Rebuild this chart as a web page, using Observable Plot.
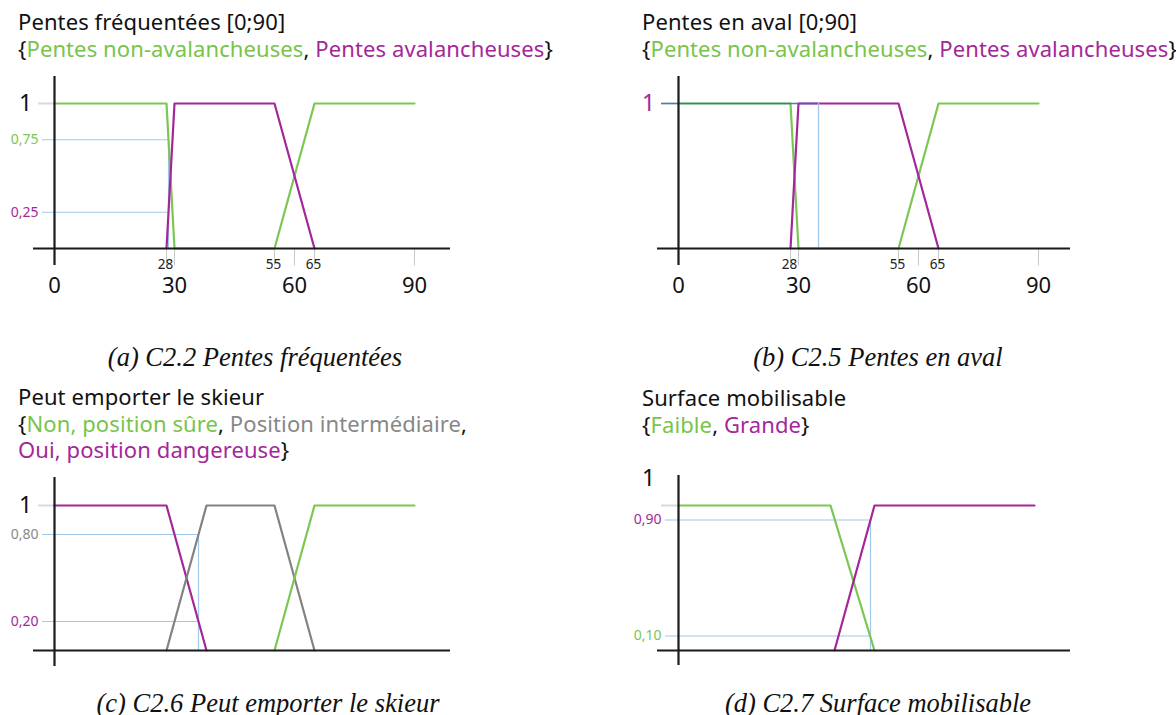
<!DOCTYPE html>
<html><head><meta charset="utf-8">
<script src="https://cdn.jsdelivr.net/npm/d3@7"></script>
<script src="https://cdn.jsdelivr.net/npm/@observablehq/plot@0.6"></script>
<style>
body{margin:0;background:#fff;}
#page{position:relative;width:1176px;height:715px;background:#fff;overflow:hidden;}
.title{position:absolute;font-family:"Noto Sans",sans-serif;font-size:22px;line-height:26.5px;color:#111;white-space:nowrap;letter-spacing:0.1px;}
.cap{position:absolute;font-family:"Liberation Serif",serif;font-style:italic;font-size:26.5px;line-height:28px;color:#111;text-align:center;width:580px;white-space:nowrap;}
.plot{position:absolute;}
.g{color:#78c44a}.m{color:#a4279a}.k{color:#878787}
</style></head>
<body><div id="page"></div>
<script>
// ---------- data ----------
const GREEN = "#7cc653", MAGENTA = "#a4279a", GREY = "#828282", GUIDE = "#9fc8ea", GUIDE_DARK = "#2f6db5";

const xMajorTicks = [0, 30, 60, 90];
const xMinorTicks = [28, 55, 65];
const xTickMarks = [28, 30, 55, 60, 65, 90];

// (a) C2.2 Pentes fréquentées
const aNonAvalX = [0, 28, 30, 55, 65, 90];
const aNonAvalY = [1, 1, 0, 0, 1, 1];
const aAvalX = [28, 30, 55, 65];
const aAvalY = [0, 1, 1, 0];
const aGuideX = 28.5;
const aGuideLevels = [0.75, 0.25];
const aGuideLabels = ["0,75", "0,25"];

// (b) C2.5 Pentes en aval
const bNonAvalX = [0, 28, 30, 55, 65, 90];
const bNonAvalY = [1, 1, 0, 0, 1, 1];
const bAvalX = [28, 30, 55, 65];
const bAvalY = [0, 1, 1, 0];
const bGuideX = 35;
const bGuideLevels = [1];

// (c) C2.6 Peut emporter le skieur
const cOuiX = [0, 28, 38];
const cOuiY = [1, 1, 0];
const cInterX = [28, 38, 55, 65];
const cInterY = [0, 1, 1, 0];
const cNonX = [55, 65, 90];
const cNonY = [0, 1, 1];
const cGuideX = 36;
const cGuideLevels = [0.8, 0.2];
const cGuideLabels = ["0,80", "0,20"];

// (d) C2.7 Surface mobilisable
const dFaibleX = [0, 38, 49];
const dFaibleY = [1, 1, 0];
const dGrandeX = [39, 49, 89];
const dGrandeY = [0, 1, 1];
const dGuideX = 48;
const dGuideLevels = [0.9, 0.1];
const dGuideLabels = ["0,90", "0,10"];

const toPts = (xs, ys) => xs.map((x, i) => ({x, y: ys[i]}));

// ---------- layout ----------
const page = document.getElementById("page");
function addHTML(cls, left, top, html, extra) {
  const d = document.createElement("div");
  d.className = cls; d.style.left = left + "px"; d.style.top = top + "px";
  if (extra) Object.assign(d.style, extra);
  d.innerHTML = html; page.appendChild(d); return d;
}

addHTML("title", 18, 8, 'Pentes fréquentées [0;90]<br>{<span class="g">Pentes non-avalancheuses</span>, <span class="m">Pentes avalancheuses</span>}');
addHTML("title", 642, 8, 'Pentes en aval [0;90]<br>{<span class="g">Pentes non-avalancheuses</span>, <span class="m">Pentes avalancheuses</span>}');
addHTML("title", 18, 383, 'Peut emporter le skieur<br>{<span class="g">Non, position sûre</span>, <span class="k">Position intermédiaire</span>,<br><span class="m">Oui, position dangereuse</span>}');
addHTML("title", 642, 384, 'Surface mobilisable<br>{<span class="g">Faible</span>, <span class="m">Grande</span>}');

addHTML("cap", -35, 343, "(a) C2.2 Pentes fréquentées");
addHTML("cap", 588, 343, "(b) C2.5 Pentes en aval");
addHTML("cap", -22, 689, "(c) C2.6 Peut emporter le skieur");
addHTML("cap", 588, 689, "(d) C2.7 Surface mobilisable");

function panel({left, top, width, x0, axisL, axisR, yTop, yBot, series, guides, yLabels, oneLabel, showX, extraMarks}) {
  const H = 240;
  const marks = [];
  // light tick at 1
  marks.push(Plot.ruleY([1], {x1: oneLabel.tick1, x2: 0, stroke: "#d9d9d9", strokeWidth: 2}));
  // guides
  for (const g of guides) {
    marks.push(Plot.ruleY(g.levels, {x1: g.x1, x2: g.x, stroke: g.color || GUIDE, strokeWidth: g.w || 1.2}));
    marks.push(Plot.ruleX([g.x], {y1: 0, y2: d3.max(g.levels), stroke: GUIDE, strokeWidth: 1.2}));
  }
  if (showX) marks.push(Plot.ruleX(xTickMarks, {y1: 0, y2: -0.12, stroke: "#c8c8c8", strokeWidth: 1}));
  for (const s of series) marks.push(Plot.line(s.pts, {x: "x", y: "y", stroke: s.color, strokeWidth: 2.2}));
  if (extraMarks) marks.push(...extraMarks);
  // axes
  marks.push(Plot.ruleY([0], {stroke: "#1a1a1a", strokeWidth: 2.2}));
  marks.push(Plot.ruleX([0], {stroke: "#1a1a1a", strokeWidth: 2.2}));
  // y labels
  marks.push(Plot.text([oneLabel.value], {x: 0, y: d => d, dx: oneLabel.dx, dy: oneLabel.dy || 0, text: () => "1", fontSize: 23, fill: oneLabel.color, fontFamily: "Noto Sans", textAnchor: "middle"}));
  for (const l of yLabels) {
    marks.push(Plot.text([l.level], {x: 0, y: d => d, dx: l.dx, text: () => l.text, fontSize: 14, fill: l.color, fontFamily: "Noto Sans", textAnchor: "end"}));
  }
  if (showX) {
    marks.push(Plot.text(xMinorTicks, {x: d => d, y: 0, dy: 16.5, dx: -1, text: d => String(d), fontSize: 13.5, fill: "#222", fontFamily: "Noto Sans"}));
    marks.push(Plot.text(xMajorTicks, {x: d => d, y: 0, dy: 37, text: d => String(d), fontSize: 22, fill: "#111", fontFamily: "Noto Sans"}));
  }
  const svg = Plot.plot({
    width, height: H,
    marginLeft: axisL, marginRight: width - axisR, marginTop: yTop, marginBottom: H - yBot,
    x: {domain: [0, 90], range: [x0, x0 + 360], axis: null},
    y: {domain: [0, 1], range: [188, 43], axis: null},
    style: {background: "transparent", overflow: "visible"},
    marks
  });
  svg.classList.add("plot");
  svg.style.left = left + "px"; svg.style.top = top + "px";
  page.appendChild(svg);
}

// (a)
panel({left: 0, top: 60, width: 580, x0: 54, axisL: 33, axisR: 450, yTop: 16, yBot: 205,
  series: [{pts: toPts(aNonAvalX, aNonAvalY), color: GREEN}, {pts: toPts(aAvalX, aAvalY), color: MAGENTA}],
  guides: [{levels: aGuideLevels, x: aGuideX, x1: -3}],
  yLabels: [{level: aGuideLevels[0], text: aGuideLabels[0], color: GREEN, dx: -16}, {level: aGuideLevels[1], text: aGuideLabels[1], color: MAGENTA, dx: -16}],
  oneLabel: {value: 1, dx: -29, color: "#111", tick1: -4}, showX: true});

// (b)
panel({left: 590, top: 60, width: 586, x0: 88, axisL: 67, axisR: 480, yTop: 16, yBot: 205,
  series: [{pts: toPts(bNonAvalX, bNonAvalY), color: GREEN}, {pts: toPts(bAvalX, bAvalY), color: MAGENTA}],
  guides: [],
  extraMarks: [
    Plot.ruleY(bGuideLevels, {x1: -4.25, x2: bGuideX, stroke: GUIDE_DARK, strokeWidth: 1.4, strokeOpacity: 0.85}),
    Plot.ruleX([bGuideX], {y1: 0, y2: 1, stroke: GUIDE, strokeWidth: 1.3})
  ],
  yLabels: [],
  oneLabel: {value: 1, dx: -30, color: MAGENTA, tick1: -4.25}, showX: true});

// (c)
panel({left: 0, top: 462, width: 580, x0: 54, axisL: 33, axisR: 450, yTop: 15, yBot: 204,
  series: [{pts: toPts(cOuiX, cOuiY), color: MAGENTA}, {pts: toPts(cInterX, cInterY), color: GREY}, {pts: toPts(cNonX, cNonY), color: GREEN}],
  guides: [{levels: cGuideLevels, x: cGuideX, x1: -3}],
  yLabels: [{level: cGuideLevels[0], text: cGuideLabels[0], color: "#8a8a8a", dx: -16}, {level: cGuideLevels[1], text: cGuideLabels[1], color: MAGENTA, dx: -16}],
  oneLabel: {value: 1, dx: -29, color: "#111", tick1: -4}, showX: false});

// (d)
panel({left: 590, top: 462, width: 586, x0: 88, axisL: 67, axisR: 480, yTop: 13, yBot: 203,
  series: [{pts: toPts(dFaibleX, dFaibleY), color: GREEN}, {pts: toPts(dGrandeX, dGrandeY), color: MAGENTA}],
  guides: [{levels: dGuideLevels, x: dGuideX, x1: -3.25}],
  yLabels: [{level: dGuideLevels[0], text: dGuideLabels[0], color: MAGENTA, dx: -17}, {level: dGuideLevels[1], text: dGuideLabels[1], color: GREEN, dx: -17}],
  oneLabel: {value: 1, dx: -30, dy: -27, color: "#111", tick1: -4.25}, showX: false});
</script></body></html>
